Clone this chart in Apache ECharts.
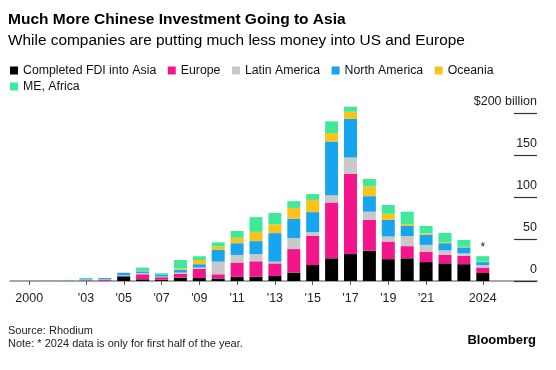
<!DOCTYPE html>
<html>
<head>
<meta charset="utf-8">
<script src="https://cdn.jsdelivr.net/npm/echarts@6/dist/echarts.min.js"></script>
<style>
html,body{margin:0;padding:0;background:#fff;}
#chart{width:556px;height:370px;}
</style>
</head>
<body>
<div id="chart"></div>
<script>
// ---- Data (billions USD) ----
const years    = [2000,2001,2002,2003,2004,2005,2006,2007,2008,2009,2010,2011,2012,2013,2014,2015,2016,2017,2018,2019,2020,2021,2022,2023,2024];
const asia     = [0,   0,   0,   0.5, 0.3, 5.5, 2,   1.5, 4,   3.5, 3,   5,   5,   6,   10,  19,  27,  32,  36,  26,  27,  22.5,21,  20,  9.5];
const europe   = [0,   0,   0,   0.3, 1.5, 0.5, 6,   3,   4.5, 11,  5,   17,  18.5,15,  28,  35,  66.5,95.5,37,  21,  14.5,12.5,10,  10,  6.5];
const latAm    = [0,   0,   0.3, 1,   0.5, 0.8, 1.5, 0.8, 1.5, 1.5, 15,  9,   8.5, 2,   13,  4,   8.5, 19.5,9.5, 6,   12,  8,   5.5, 3,   3];
const northAm  = [0.2, 0.3, 0.5, 1.4, 1.2, 3,   2,   2.5, 3.5, 4,   14,  14,  15.5,34,  23,  24,  64,  46,  18.5,20,  12,  12,  8.5, 7,   3.5];
const oceania  = [0,   0,   0,   0,   0,   0,   0.5, 0,   1.5, 5,   4,   6.5, 11,  10.5,13,  14.5,10,  8.5, 11.5,7,   2,   1.5, 1.2, 0.8, 0.5];
const meAfrica = [0,   0,   0,   0,   0,   0,   4,   1.5, 10,  4.5, 5,   8,   17.5,13.5,8,   7,   14,  6,   9,   10.5,15,  9,   11,  8,   6.5];

const seriesNames = ['Completed FDI into Asia','Europe','Latin America','North America','Oceania','ME, Africa'];
const seriesData  = [asia, europe, latAm, northAm, oceania, meAfrica];
const colors      = ['#000000','#f2168a','#c9c9c9','#17a6ee','#fbc21a','#40e89a'];

const xTickYears  = [2000,2003,2005,2007,2009,2011,2013,2015,2017,2019,2021,2024];
const xTickLabels = ['2000',"'03","'05","'07","'09","'11","'13","'15","'17","'19","'21",'2024'];
const yTicks      = [0,50,100,150,200];
const noteYear    = 2024;

const FONT = '"Liberation Sans", Arial, sans-serif';

const series = seriesNames.map((name, si) => ({
  name: name,
  type: 'bar',
  stack: 'total',
  xAxisIndex: 0,
  yAxisIndex: 0,
  barWidth: 13,
  clip: false,
  itemStyle: { color: colors[si] },
  emphasis: { disabled: true },
  data: years.map((y, i) => {
    const pt = { value: seriesData[si][i] };
    if (si === seriesNames.length - 1 && y === noteYear) {
      pt.label = { show: true, position: 'top', distance: 3, formatter: '*',
                   color: '#222', fontSize: 12, fontFamily: FONT };
    }
    return pt;
  })
}));

const chart = echarts.init(document.getElementById('chart'), null, { renderer: 'canvas' });
chart.setOption({
  animation: false,
  backgroundColor: '#ffffff',
  color: colors,
  title: [
    { text: 'Much More Chinese Investment Going to Asia', left: 8, top: 12, padding: 0,
      textStyle: { fontFamily: FONT, fontSize: 15.5, fontWeight: 'bold', color: '#000' } },
    { text: 'While companies are putting much less money into US and Europe', left: 8, top: 33, padding: 0,
      textStyle: { fontFamily: FONT, fontSize: 15.4, fontWeight: 'normal', color: '#000' } },
    { text: 'Source: Rhodium\nNote: * 2024 data is only for first half of the year.', left: 8, top: 324, padding: 0,
      textStyle: { fontFamily: FONT, fontSize: 11, lineHeight: 13, fontWeight: 'normal', color: '#222' } },
    { text: 'Bloomberg', right: 20, top: 334, padding: 0,
      textStyle: { fontFamily: FONT, fontSize: 13, fontWeight: 'bold', color: '#000' } }
  ],
  legend: [
    { data: seriesNames.slice(0, 5), left: 10, top: 64.5, padding: 0, icon: 'rect',
      itemWidth: 8, itemHeight: 8, itemGap: 11.5, selectedMode: false,
      textStyle: { fontFamily: FONT, fontSize: 12.3, color: '#111' } },
    { data: seriesNames.slice(5), left: 10, top: 80.5, padding: 0, icon: 'rect',
      itemWidth: 8, itemHeight: 8, itemGap: 11.5, selectedMode: false,
      textStyle: { fontFamily: FONT, fontSize: 12.3, color: '#111' } }
  ],
  grid: [
    { left: 19.75, right: 63.75, top: 113, bottom: 89, containLabel: false },
    { left: 10, right: 19, top: 113, bottom: 89, containLabel: false }
  ],
  xAxis: [
    {
      type: 'category', gridIndex: 0, data: years, boundaryGap: true,
      axisLine: { show: false }, axisTick: { show: false }, axisLabel: { show: false },
      splitLine: { show: false }
    },
    {
      type: 'value', gridIndex: 1,
      min: 1998.98, max: 2026.87,
      splitLine: { show: false },
      axisLine: { show: true, onZero: false, lineStyle: { color: '#8a8a8a', width: 1.5 } },
      axisTick: { show: true, length: 4, customValues: xTickYears, lineStyle: { color: '#555', width: 1 } },
      axisLabel: {
        show: true, margin: 11, customValues: xTickYears,
        fontFamily: FONT, fontSize: 12.5, color: '#222',
        formatter: v => xTickLabels[xTickYears.indexOf(Math.round(v))]
      }
    }
  ],
  yAxis: [
    {
      type: 'value', gridIndex: 0, min: 0, max: 200, interval: 50,
      axisLine: { show: false }, axisTick: { show: false }, axisLabel: { show: false },
      splitLine: { show: false }
    },
    {
      type: 'value', gridIndex: 1,
      position: 'right',
      min: 0, max: 200, interval: 50,
      splitLine: { show: false },
      axisLine: { show: false },
      axisTick: { show: true, inside: true, length: 23, lineStyle: { color: '#333', width: 1.2 } },
      axisLabel: {
        show: true, inside: true, margin: 0, verticalAlign: 'bottom', padding: [0, 0, 5, 0],
        fontFamily: FONT, fontSize: 12.5, color: '#222',
        customValues: yTicks,
        formatter: v => (v === 200 ? '$200 billion' : String(v))
      }
    }
  ],
  series: series
});
</script>
</body>
</html>
